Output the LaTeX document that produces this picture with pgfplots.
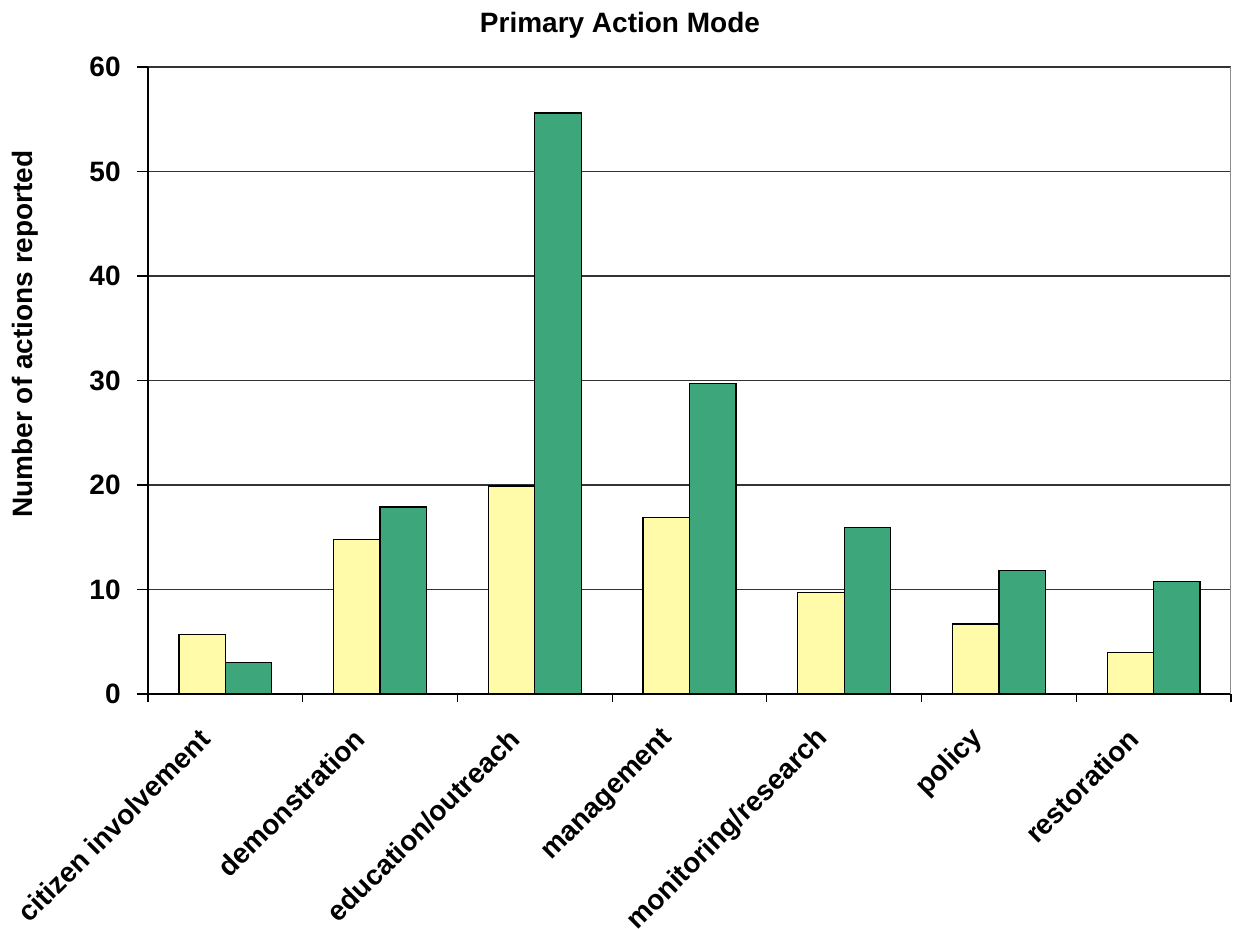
\documentclass[border=0pt]{standalone}
\usepackage{fontspec}
\setmainfont{Liberation Sans}
\usepackage{pgfplots}
\pgfplotsset{compat=1.18}
\definecolor{barYellow}{HTML}{FFFBA8}
\definecolor{barGreen}{HTML}{3DA67A}
\begin{document}
\begin{tikzpicture}[font=\bfseries\fontsize{14}{16.8}\selectfont]
\useasboundingbox (-74pt,-117.5pt) rectangle (542.5pt,347pt);
\begin{axis}[
  at={(0,0)}, anchor=south west,
  scale only axis, width=541.5pt, height=313.5pt,
  xmin=-0.5, xmax=6.5, ymin=0, ymax=60,
  ybar, bar width=0.3,
  axis x line*=bottom, axis y line*=left,
  axis line style={black, line width=0.6pt},
  ytick={0,10,...,60},
  ymajorgrids, grid style={black!80, line width=0.8pt},
  xtick={0,...,6},
  xticklabels={citizen involvement, demonstration, education/outreach, management, monitoring/research, policy, restoration},
  minor xtick={-0.5,0.5,...,6.5},
  tick align=outside,
  major tick length=5.5pt, minor tick length=4pt,
  every tick/.style={black, line width=0.6pt},
  major x tick style={draw=none},
  /pgf/number format/assume math mode=true,
  xticklabel style={xshift=-10pt, yshift=-14.5pt, rotate=45, anchor=east, inner sep=0pt},
  yticklabel style={anchor=east, inner sep=0pt, xshift=-8pt},
  every axis title shift=0pt,
  title={Primary Action Mode},
  title style={at={(rel axis cs:0.4358,1.0558)}, anchor=base, yshift=0pt, inner sep=0pt},
  ylabel={Number of actions reported},
  ylabel style={at={(rel axis cs:-0.1062,0.5742)}, anchor=base, rotate=0, inner sep=0pt},
]
\addplot[fill=barYellow, draw=black, line width=0.6pt, bar shift=-0.15]
  coordinates {(0,5.7) (1,14.8) (2,19.9) (3,16.9) (4,9.7) (5,6.7) (6,4.0)};
\addplot[fill=barGreen, draw=black, line width=0.6pt, bar shift=0.15]
  coordinates {(0,3.0) (1,17.9) (2,55.6) (3,29.7) (4,15.9) (5,11.8) (6,10.8)};
\draw[black!45, line width=0.6pt] (rel axis cs:1,0) -- (rel axis cs:1,1);
\end{axis}
\end{tikzpicture}
\end{document}
